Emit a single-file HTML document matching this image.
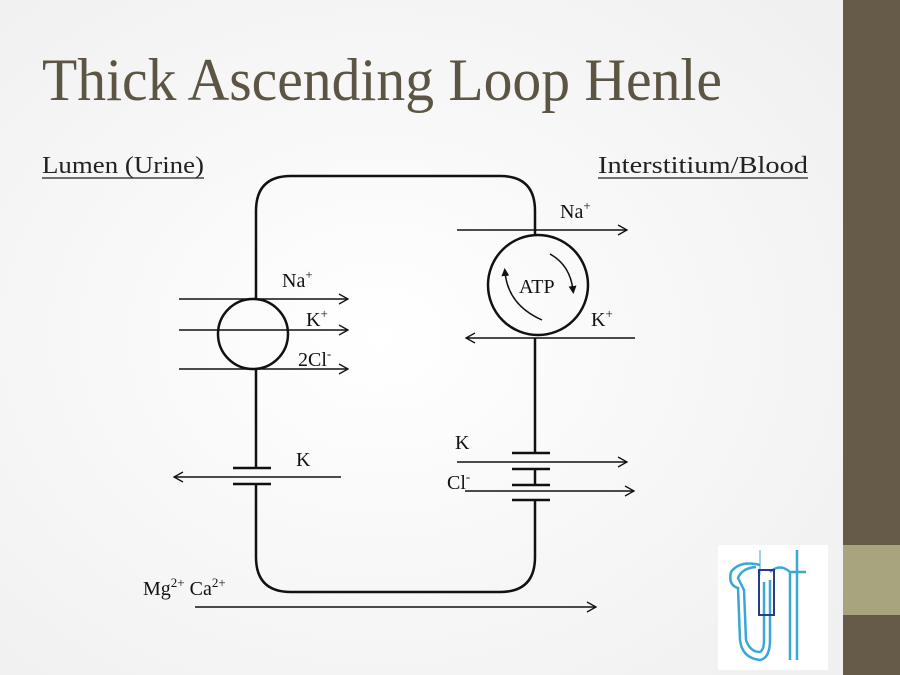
<!DOCTYPE html>
<html><head><meta charset="utf-8"><style>
html,body{margin:0;padding:0;width:900px;height:675px;overflow:hidden;background:#f8f8f8}
svg text{font-family:"Liberation Serif",serif}
</style></head><body>
<svg width="900" height="675" viewBox="0 0 900 675" xmlns="http://www.w3.org/2000/svg">
<defs>
<radialGradient id="bg" cx="0.45" cy="0.5" r="0.7"><stop offset="0" stop-color="#ffffff"/><stop offset="1" stop-color="#f0f0f0"/></radialGradient>
<marker id="a" markerWidth="12" markerHeight="12" refX="10" refY="6" orient="auto" markerUnits="userSpaceOnUse"><path d="M1,1 L10,6 L1,11" fill="none" stroke="#111" stroke-width="1.3"/></marker>
<marker id="s" markerWidth="8" markerHeight="8" refX="4" refY="4" orient="auto" markerUnits="userSpaceOnUse"><path d="M0,0 L8,4 L0,8 z" fill="#111"/></marker>
</defs>
<rect width="843" height="675" fill="url(#bg)"/>
<rect x="843" y="0" width="57" height="675" fill="#655b48"/>
<rect x="843" y="545" width="57" height="70" fill="#a8a47d"/>
<text x="42" y="100" font-size="60" fill="#5d5543" textLength="680" lengthAdjust="spacingAndGlyphs">Thick Ascending Loop Henle</text>
<text x="42" y="173" font-size="24" fill="#222" textLength="162" lengthAdjust="spacingAndGlyphs">Lumen (Urine)</text>
<line x1="42" y1="178" x2="204" y2="178" stroke="#222" stroke-width="1.3"/>
<text x="598" y="173" font-size="24" fill="#222" textLength="210" lengthAdjust="spacingAndGlyphs">Interstitium/Blood</text>
<line x1="598" y1="178" x2="808" y2="178" stroke="#222" stroke-width="1.3"/>
<g stroke="#111" stroke-width="2.5" fill="none">
<path d="M256,299 L256,211 Q256,176 291,176 L500,176 Q535,176 535,211 L535,235"/>
<path d="M256,369 L256,468 M256,484 L256,557 Q256,592 291,592 L500,592 Q535,592 535,557 L535,500 M535,453 L535,338"/>
<line x1="535" y1="469" x2="535" y2="485"/>
<circle cx="253" cy="334" r="35"/>
<circle cx="538" cy="285" r="50"/>
<line x1="233" y1="468" x2="271" y2="468"/><line x1="233" y1="484" x2="271" y2="484"/>
<line x1="512" y1="453" x2="550" y2="453"/><line x1="512" y1="469" x2="550" y2="469"/>
<line x1="512" y1="485" x2="550" y2="485"/><line x1="512" y1="500" x2="550" y2="500"/>
</g>
<g stroke="#111" stroke-width="1.5" fill="none">
<line x1="179" y1="299" x2="348" y2="299" marker-end="url(#a)"/>
<line x1="179" y1="330" x2="348" y2="330" marker-end="url(#a)"/>
<line x1="179" y1="369" x2="348" y2="369" marker-end="url(#a)"/>
<line x1="341" y1="477" x2="174" y2="477" marker-end="url(#a)"/>
<line x1="457" y1="230" x2="627" y2="230" marker-end="url(#a)"/>
<line x1="635" y1="338" x2="466" y2="338" marker-end="url(#a)"/>
<line x1="457" y1="462" x2="627" y2="462" marker-end="url(#a)"/>
<line x1="465" y1="491" x2="634" y2="491" marker-end="url(#a)"/>
<line x1="195" y1="607" x2="596" y2="607" marker-end="url(#a)"/>
<path d="M542,320 Q508,305 505,272" marker-end="url(#s)"/>
<path d="M550,254 Q570,265 573,290" marker-end="url(#s)"/>
</g>
<g font-size="20" fill="#111">
<text x="282" y="287">Na<tspan font-size="13" dy="-8">+</tspan></text>
<text x="306" y="326">K<tspan font-size="13" dy="-8">+</tspan></text>
<text x="298" y="366">2Cl<tspan font-size="13" dy="-8">-</tspan></text>
<text x="296" y="466">K</text>
<text x="519" y="293">ATP</text>
<text x="560" y="218">Na<tspan font-size="13" dy="-8">+</tspan></text>
<text x="591" y="326">K<tspan font-size="13" dy="-8">+</tspan></text>
<text x="455" y="449">K</text>
<text x="447" y="489">Cl<tspan font-size="13" dy="-8">-</tspan></text>
<text x="143" y="595">Mg<tspan font-size="13" dy="-8">2+</tspan><tspan dy="8"> Ca</tspan><tspan font-size="13" dy="-8">2+</tspan></text>
</g>
<rect x="718" y="545" width="110" height="125" fill="#fff"/>
<g fill="none" stroke="#3aa7d6" stroke-width="2.5">
<path d="M760,565 Q740,560 731,572 Q728,585 738,588 L740,640 Q742,658 760,660 Q770,658 770,640 L770,580"/>
<path d="M756,567 Q742,568 738,578 L744,590 L746,640 Q750,652 760,652 Q764,650 764,640 L764,582"/>
<path d="M770,572 Q780,563 790,572 L790,660 M797,550 L797,660 M790,572 L806,572"/>
<line x1="760" y1="550" x2="760" y2="575" stroke-width="1"/>
</g>
<rect x="759" y="570" width="15" height="45" fill="none" stroke="#2a3a8a" stroke-width="2"/>
</svg>
</body></html>
